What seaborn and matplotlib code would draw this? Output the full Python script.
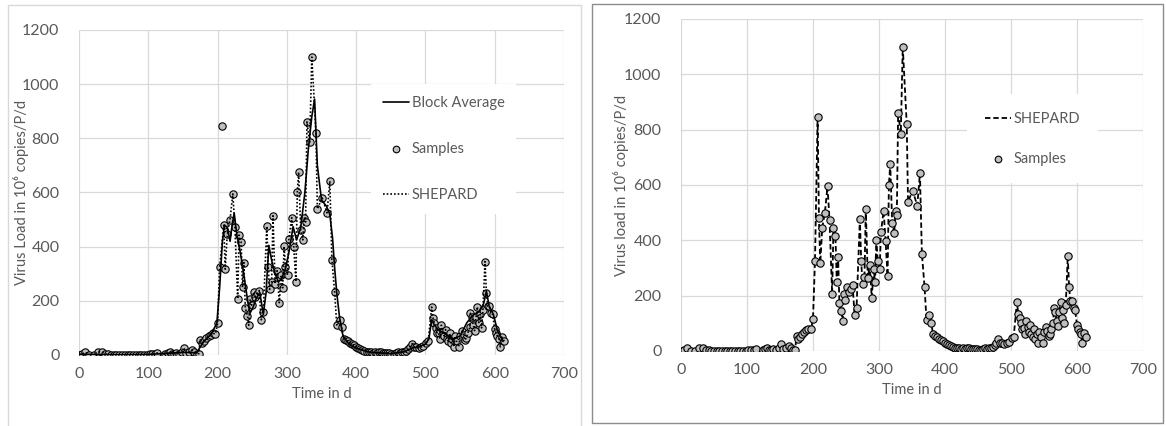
import matplotlib
matplotlib.use("Agg")
import matplotlib.pyplot as plt
import seaborn as sns
import pandas as pd
from matplotlib.patches import Rectangle

# ---------------- data ----------------
sample_days = [0, 5, 9, 15, 21, 27, 33, 38, 42, 46, 50, 54, 58, 62, 66, 70, 74, 78, 82, 86,
               90, 94, 98, 102, 106, 110, 113, 124, 128, 131, 134, 137, 140, 144, 148, 151,
               155, 159, 163, 166, 170, 173, 175, 178, 181, 184, 187, 190, 193, 197, 200,
               203, 207, 209, 211, 214, 218, 222, 225, 229, 231, 234, 236, 238, 240, 243,
               245, 247, 249, 252, 254, 257, 260, 263, 266, 271, 273, 275, 278, 280, 283,
               286, 289, 292, 294, 296, 298, 301, 303, 307, 310, 313, 315, 317, 320, 323,
               325, 327, 329, 333, 336, 342, 344, 351, 358, 362, 365, 369, 372, 376, 379,
               382, 385, 388, 391, 394, 397, 400, 403, 406, 409, 412, 415, 418, 421, 424,
               427, 430, 433, 436, 439, 442, 445, 448, 451, 454, 457, 460, 463, 466, 469,
               472, 475, 478, 481, 484, 487, 490, 494, 497, 501, 504, 509, 511, 513, 515,
               517, 519, 521, 523, 525, 527, 529, 531, 533, 535, 537, 539, 541, 543, 545,
               548, 550, 553, 555, 557, 559, 561, 564, 565, 567, 569, 571, 573, 575, 577,
               579, 581, 583, 586, 588, 590, 592, 595, 597, 600, 602, 604, 606, 608, 610,
               614]
sample_load = [0, 5, 10, 0, 0, 12, 11, 4, 2, 1, 0, 0, 0, 0, 0, 0, 0, 0, 0, 0,
               1, 1, 1, 2, 2, 3, 8, 2, 6, 10, 4, 4, 6, 4, 10, 27,
               8, 10, 18, 10, 5, 5, 55, 45, 50, 62, 70, 75, 80, 78, 117,
               325, 845, 479, 317, 445, 500, 595, 474, 207, 443, 417, 250, 341, 175, 145,
               110, 206, 184, 232, 215, 225, 238, 130, 157, 476, 326, 242, 269, 514, 263,
               311, 193, 296, 248, 401, 326, 295, 430, 507, 397, 271, 600, 675, 462, 425,
               505, 491, 861, 786, 1100, 821, 539, 580, 525, 642, 352, 232, 111, 130, 102,
               60, 55, 50, 45, 40, 37, 30, 25, 22, 18, 14, 12, 10, 10, 9,
               10, 8, 10, 12, 8, 6, 8, 6, 4, 5, 8, 10, 8, 10, 12,
               15, 22, 28, 42, 30, 28, 26, 30, 34, 46, 50, 177, 135, 118, 100,
               80, 82, 60, 110, 85, 70, 94, 60, 50, 80, 45, 60, 30, 70, 50,
               30, 70, 88, 74, 55, 62, 80, 102, 154, 140, 110, 90, 140, 178, 120,
               150, 100, 165, 345, 230, 180, 180, 155, 150, 95, 80, 70, 60, 30, 66,
               50]

# SHEPARD curve of the right panel runs through every sample
shepard_days = sample_days
shepard_load = sample_load

# SHEPARD curve of the left panel skips the single outlier at day 207
shepard_left_days = [d for d in sample_days if d != 207]
shepard_left_load = [v for d, v in zip(sample_days, sample_load) if d != 207]

block_days = [0, 50, 100, 150, 170, 175, 180, 190, 199, 203, 207, 210, 214, 218, 221, 224,
              228, 232, 236, 240, 244, 247, 251, 256, 261, 266, 270, 274, 278, 283, 288,
              293, 298, 303, 309, 314, 320, 326, 331, 336, 340, 344, 350, 357, 362, 366,
              369, 372, 376, 381, 390, 400, 420, 450, 470, 480, 490, 500, 505, 509, 513,
              520, 530, 540, 550, 560, 570, 578, 584, 588, 592, 598, 604, 612]
block_load = [3, 1, 2, 10, 8, 30, 50, 75, 117, 250, 420, 480, 470, 420, 480, 523,
              440, 390, 330, 260, 190, 155, 175, 210, 230, 150, 230, 405, 350, 300, 270,
              285, 320, 380, 474, 425, 470, 600, 760, 880, 945, 700, 572, 550, 520, 430,
              320, 230, 140, 70, 40, 25, 10, 5, 12, 25, 30, 40, 60, 130, 110,
              90, 75, 60, 70, 120, 150, 160, 190, 235, 180, 150, 90, 50]

x_ticks = [0, 100, 200, 300, 400, 500, 600, 700]
y_ticks = [0, 200, 400, 600, 800, 1000, 1200]

samples = pd.DataFrame({"Time": sample_days, "Load": sample_load})
shepard = pd.DataFrame({"Time": shepard_days, "Load": shepard_load})
shepard_left = pd.DataFrame({"Time": shepard_left_days, "Load": shepard_left_load})
block = pd.DataFrame({"Time": block_days, "Load": block_load})

# ---------------- style ----------------
sns.set_theme(style="whitegrid")
plt.rcParams["font.family"] = ["Lato", "DejaVu Sans"]
TXT = "#595959"
GRID = "#d9d9d9"

fig = plt.figure(figsize=(11.66, 4.26), dpi=100)

# panel frames
fig.patches.append(Rectangle((8 / 1166, -0.02), (581 - 8) / 1166, 1 - 5 / 426 + 0.02,
                             transform=fig.transFigure, fill=False, edgecolor="#d9d9d9",
                             linewidth=1.0, zorder=0))
fig.patches.append(Rectangle((592 / 1166, 1 - 423 / 426), (1163 - 592) / 1166,
                             (423 - 4) / 426, transform=fig.transFigure, fill=False,
                             edgecolor="#8c8c8c", linewidth=1.0, zorder=0))

ax1 = fig.add_axes([79 / 1166, 1 - 355 / 426, 485 / 1166, 325 / 426])
ax2 = fig.add_axes([681 / 1166, 1 - 351 / 426, 462 / 1166, 332 / 426])

marker_kw = dict(s=28, color="#bfbfbf", edgecolor="black", linewidth=0.8)

# left panel
sns.scatterplot(data=samples, x="Time", y="Load", ax=ax1, label="Samples", zorder=2, **marker_kw)
sns.lineplot(data=block, x="Time", y="Load", ax=ax1, color="black", linewidth=1.2,
             sort=False, estimator=None, label="Block Average", zorder=3)
sns.lineplot(data=shepard_left, x="Time", y="Load", ax=ax1, color="black", linewidth=1.2,
             linestyle=(0, (1, 1.2)), sort=False, estimator=None, label="SHEPARD", zorder=3)

# right panel
sns.lineplot(data=shepard, x="Time", y="Load", ax=ax2, color="black", linewidth=1.3,
             linestyle=(0, (3, 1.6)), sort=False, estimator=None, label="SHEPARD", zorder=2)
sns.scatterplot(data=samples, x="Time", y="Load", ax=ax2, label="Samples", zorder=3, **marker_kw)

for ax, ylab, ylx in ((ax1, "Virus Load in 10\u2076 copies/P/d", -0.103),
                      (ax2, "Virus load in 10\u2076 copies/P/d", -0.113)):
    ax.set_xlim(0, 700)
    ax.set_ylim(0, 1200)
    ax.set_xticks(x_ticks)
    ax.set_yticks(y_ticks)
    ax.grid(True, color=GRID, linewidth=0.9)
    ax.set_axisbelow(True)
    for sp in ax.spines.values():
        sp.set_visible(False)
    ax.tick_params(axis="both", length=0, labelsize=11.5, labelcolor=TXT)
    ax.tick_params(axis="y", pad=14)
    ax.tick_params(axis="x", pad=9)
    ax.set_xlabel("Time in d", fontsize=10.5, color=TXT, labelpad=4)
    ax.set_ylabel(ylab, fontsize=10.5, color=TXT)
    ax.yaxis.set_label_coords(ylx, 0.5)
    ax.set_facecolor("none")

# legends
h, l = ax1.get_legend_handles_labels()
order = [l.index("Block Average"), l.index("Samples"), l.index("SHEPARD")]
leg1 = ax1.legend([h[i] for i in order], [l[i] for i in order], loc="center left",
                  bbox_to_anchor=(0.603, 0.634), borderaxespad=0, frameon=True,
                  facecolor="white", edgecolor="none", framealpha=1, fontsize=10.5,
                  labelspacing=2.2, handlelength=1.8, handletextpad=0.15, borderpad=0.8,
                  labelcolor=TXT, markerscale=0.9)
leg1.get_frame().set_boxstyle("square", pad=0)

h2, l2 = ax2.get_legend_handles_labels()
order2 = [l2.index("SHEPARD"), l2.index("Samples")]
leg2 = ax2.legend([h2[i] for i in order2], [l2[i] for i in order2], loc="center left",
                  bbox_to_anchor=(0.62, 0.639), borderaxespad=0, frameon=True,
                  facecolor="white", edgecolor="none", framealpha=1, fontsize=10.5,
                  labelspacing=1.8, handlelength=1.8, handletextpad=0.15, borderpad=1.2,
                  labelcolor=TXT, markerscale=0.9)
leg2.get_frame().set_boxstyle("square", pad=0)

fig.savefig("out.png", dpi=100)
